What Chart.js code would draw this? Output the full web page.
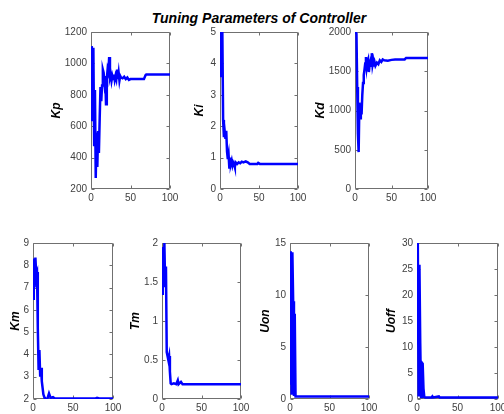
<!DOCTYPE html>
<html>
<head>
<meta charset="utf-8">
<script src="https://cdn.jsdelivr.net/npm/chart.js@4.4.1/dist/chart.umd.min.js"></script>
<style>
  html, body { margin: 0; padding: 0; background: #fff; overflow: hidden; }
  body { width: 504px; height: 414px; position: relative; }
  #title {
    position: absolute; left: 259px; top: 10px; transform: translateX(-50%);
    font: italic bold 14px Arial, "Liberation Sans", sans-serif; line-height: 16px;
    white-space: nowrap; color: #000;
  }
  canvas { position: absolute; }
</style>
</head>
<body>
<div id="title">Tuning Parameters of Controller</div>

<script>
// iteration ticks shared by all panels
const xTicks = [0, 50, 100];

// Kp
const kpX = [0, 1, 2, 3, 4, 5, 6, 7, 8, 9, 10, 11, 12, 13, 14, 15, 16, 17, 18, 19, 20, 21, 22, 23, 24, 25, 26, 27, 28, 29, 30, 31, 32, 33, 34, 35, 36, 37, 38, 40, 42, 44, 46, 48, 50, 67, 69, 70, 100];
const kpY = [640, 1110, 650, 1100, 480, 830, 270, 560, 340, 570, 430, 650, 850, 760, 860, 960, 940, 880, 920, 740, 900, 960, 940, 1040, 910, 930, 890, 920, 900, 930, 895, 920, 900, 960, 900, 940, 890, 920, 910, 905, 915, 900, 910, 895, 900, 900, 925, 930, 930];
const kpTicks = [200, 400, 600, 800, 1000, 1200];

// Ki
const kiX = [0, 1, 2, 3, 4, 5, 6, 7, 8, 9, 10, 11, 12, 13, 14, 15, 16, 17, 18, 19, 20, 22, 24, 26, 28, 30, 33, 36, 38, 48, 49, 51, 100];
const kiY = [3.6, 5.0, 4.1, 5.0, 2.2, 1.65, 1.85, 1.6, 1.85, 1.2, 0.95, 1.1, 0.65, 1.0, 0.8, 0.9, 0.75, 0.85, 0.8, 0.7, 0.85, 0.8, 0.85, 0.82, 0.87, 0.85, 0.88, 0.84, 0.8, 0.8, 0.83, 0.8, 0.8];
const kiTicks = [0, 1, 2, 3, 4, 5];

// Kd
const kdX = [0, 1, 2, 3, 4, 5, 6, 7, 8, 9, 10, 11, 12, 13, 14, 15, 16, 17, 18, 19, 20, 21, 22, 23, 24, 25, 26, 27, 28, 30, 32, 34, 36, 38, 40, 45, 50, 55, 68, 70, 100];
const kdY = [1990, 2000, 1980, 1300, 700, 470, 1100, 900, 1050, 950, 1200, 1350, 1450, 1520, 1600, 1680, 1550, 1620, 1650, 1490, 1580, 1620, 1570, 1730, 1580, 1630, 1560, 1610, 1570, 1610, 1590, 1640, 1620, 1650, 1640, 1635, 1645, 1650, 1650, 1670, 1670];
const kdTicks = [0, 500, 1000, 1500, 2000];

// Km
const kmX = [0, 1, 2, 3, 4, 5, 6, 7, 8, 9, 10, 11, 12, 13, 14, 15, 18, 20, 22, 25, 27, 30, 78, 80, 83, 100];
const kmY = [6.5, 8.3, 7.0, 8.35, 7.6, 7.7, 5.2, 3.3, 4.2, 3.0, 3.4, 2.8, 2.5, 2.2, 2.1, 2.0, 2.02, 2.25, 2.05, 2.08, 2.03, 2.02, 2.02, 2.05, 2.02, 2.02];
const kmTicks = [2, 3, 4, 5, 6, 7, 8, 9];

// Tm
const tmX = [0, 1, 2, 3, 4, 5, 6, 7, 8, 9, 10, 11, 12, 15, 18, 20, 21, 24, 26, 100];
const tmY = [1.35, 1.95, 1.6, 2.0, 1.45, 1.7, 0.6, 0.55, 0.5, 0.55, 0.35, 0.2, 0.19, 0.2, 0.19, 0.24, 0.19, 0.22, 0.19, 0.19];
const tmTicks = [0, 0.5, 1, 1.5, 2];

// Uon
const uonX = [0, 1, 2, 3, 4, 5, 6, 7, 100];
const uonY = [1.5, 14.2, 0.4, 14.1, 9.4, 0.3, 8.2, 0.25, 0.25];
const uonTicks = [0, 5, 10, 15];

// Uoff
const uoffX = [0, 1, 2, 3, 4, 5, 6, 7, 8, 9, 10, 18, 19, 20, 27, 28, 100];
const uoffY = [10.7, 30, 0.5, 25.8, 10.7, 0.4, 7, 6.8, 2, 0.4, 0.3, 0.3, 0.5, 0.3, 0.5, 0.3, 0.3];
const uoffTicks = [0, 5, 10, 15, 20, 25, 30];

// panel placement: plot box (l,t,r,b) and centre of the y label
const panels = [
  { name: 'Kp',   xs: kpX,   ys: kpY,   ticks: kpTicks,   l: 91,  t: 30,  r: 170, b: 189, lab: 56 },
  { name: 'Ki',   xs: kiX,   ys: kiY,   ticks: kiTicks,   l: 220, t: 30,  r: 298, b: 189, lab: 199 },
  { name: 'Kd',   xs: kdX,   ys: kdY,   ticks: kdTicks,   l: 355, t: 30,  r: 428, b: 189, lab: 320 },
  { name: 'Km',   xs: kmX,   ys: kmY,   ticks: kmTicks,   l: 33,  t: 241, r: 113, b: 399, lab: 15 },
  { name: 'Tm',   xs: tmX,   ys: tmY,   ticks: tmTicks,   l: 162, t: 241, r: 241, b: 399, lab: 135 },
  { name: 'Uon',  xs: uonX,  ys: uonY,  ticks: uonTicks,  l: 290, t: 241, r: 369, b: 399, lab: 265 },
  { name: 'Uoff', xs: uoffX, ys: uoffY, ticks: uoffTicks, l: 417, t: 241, r: 498, b: 399, lab: 391 }
];

const PAD_TOP = 8, PAD_RIGHT = 12, X_H = 22;
const tickFont = { family: 'Arial, "Liberation Sans", sans-serif', size: 10 };
const tickColor = '#404040';

// matlab-like box with inward tick marks
const boxPlugin = {
  id: 'box',
  beforeDatasetsDraw(chart) {
    const { ctx, chartArea: a, scales } = chart;
    const L = a.left + 0.5, R = a.right - 0.5, T = a.top + 0.5, B = a.bottom - 0.5;
    ctx.save();
    ctx.strokeStyle = '#707070';
    ctx.lineWidth = 1;
    ctx.beginPath();
    ctx.rect(L, T, R - L, B - T);
    scales.x.ticks.forEach(tk => {
      const px = Math.round(scales.x.getPixelForValue(tk.value)) + 0.5;
      ctx.moveTo(px, B); ctx.lineTo(px, B - 3);
      ctx.moveTo(px, T); ctx.lineTo(px, T + 3);
    });
    scales.y.ticks.forEach(tk => {
      const py = Math.round(scales.y.getPixelForValue(tk.value)) + 0.5;
      ctx.moveTo(L, py); ctx.lineTo(L + 3, py);
      ctx.moveTo(R, py); ctx.lineTo(R - 3, py);
    });
    ctx.stroke();
    ctx.restore();
  }
};

panels.forEach(p => {
  const yW = Math.round(p.l - (p.lab - 7.2));
  const cv = document.createElement('canvas');
  const w = yW + (p.r - p.l) + PAD_RIGHT;
  const h = PAD_TOP + (p.b - p.t) + X_H;
  cv.width = w; cv.height = h;
  cv.style.left = (p.l - yW) + 'px';
  cv.style.top = (p.t - PAD_TOP) + 'px';
  cv.style.width = w + 'px';
  cv.style.height = h + 'px';
  document.body.appendChild(cv);

  const yTicks = p.ticks;
  new Chart(cv.getContext('2d'), {
    type: 'line',
    data: {
      datasets: [{
        data: p.xs.map((x, i) => ({ x: x, y: p.ys[i] })),
        borderColor: '#0000ff',
        borderWidth: 2.5,
        pointRadius: 0,
        tension: 0,
        fill: false
      }]
    },
    options: {
      responsive: false,
      animation: false,
      devicePixelRatio: 1,
      layout: { padding: { top: PAD_TOP, right: PAD_RIGHT, left: 0, bottom: 0 } },
      plugins: { legend: { display: false }, tooltip: { enabled: false } },
      scales: {
        x: {
          type: 'linear',
          min: 0,
          max: 100,
          afterBuildTicks: s => { s.ticks = xTicks.map(v => ({ value: v })); },
          afterFit: s => { s.height = X_H; },
          grid: { display: false, drawTicks: false },
          border: { display: false },
          ticks: { font: tickFont, color: tickColor, padding: 3, maxRotation: 0, autoSkip: false, callback: v => String(v) }
        },
        y: {
          type: 'linear',
          min: yTicks[0],
          max: yTicks[yTicks.length - 1],
          afterBuildTicks: s => { s.ticks = yTicks.map(v => ({ value: v })); },
          afterFit: s => { s.width = yW; },
          grid: { display: false, drawTicks: false },
          border: { display: false },
          ticks: { font: tickFont, color: tickColor, padding: 4, autoSkip: false, callback: v => String(v) },
          title: {
            display: true,
            text: p.name,
            color: '#000',
            padding: { top: 0, bottom: 0 },
            font: { family: 'Arial, "Liberation Sans", sans-serif', size: 12, weight: 'bold', style: 'italic', lineHeight: 1.2 }
          }
        }
      }
    },
    plugins: [boxPlugin]
  });
});
</script>
</body>
</html>
